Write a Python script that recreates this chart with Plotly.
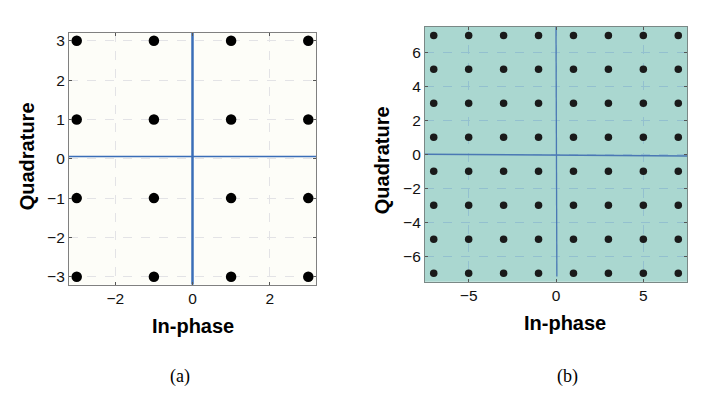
import plotly.graph_objects as go

# ---- data ----
levels_a = [-3, -1, 1, 3]
levels_b = [-7, -5, -3, -1, 1, 3, 5, 7]
xticks_a = [-2, 0, 2]
yticks_a = [-3, -2, -1, 0, 1, 2, 3]
xticks_b = [-5, 0, 5]
yticks_b = [-6, -4, -2, 0, 2, 4, 6]
range_a = [-3.2, 3.2]
range_b = [-7.5, 7.5]
# blue reference (axis) lines
a_vline_x = [0, 0]
a_vline_y = [-3.2, 3.2]
a_hline_x = [-3.2, 3.2]
a_hline_y = [0.06, 0.06]
b_vline_x = [0, 0.05]
b_vline_y = [7.5, -7.2]
b_hline_x = [-7.5, 7.5]
b_hline_y = [0, -0.1]

pts_a_x = [i for q in levels_a for i in levels_a]
pts_a_y = [q for q in levels_a for i in levels_a]
pts_b_x = [i for q in levels_b for i in levels_b]
pts_b_y = [q for q in levels_b for i in levels_b]

W, H = 723, 413
OFF = 8  # default page body margin


def px(x):
    return (x - OFF) / W


def py(y):
    return 1 - (y - OFF) / H


fig = go.Figure()

# subplot (a)
fig.add_trace(go.Scatter(x=a_vline_x, y=a_vline_y, mode="lines",
                         line=dict(color="#3a6eb8", width=2.5), xaxis="x", yaxis="y", showlegend=False))
fig.add_trace(go.Scatter(x=a_hline_x, y=a_hline_y, mode="lines",
                         line=dict(color="#3a6eb8", width=1.5), xaxis="x", yaxis="y", showlegend=False))
fig.add_trace(go.Scatter(x=pts_a_x, y=pts_a_y, mode="markers",
                         marker=dict(color="black", size=10.5), xaxis="x", yaxis="y",
                         showlegend=False, cliponaxis=False))

# subplot (b)
fig.add_trace(go.Scatter(x=b_vline_x, y=b_vline_y, mode="lines",
                         line=dict(color="#4a78b4", width=1.3), xaxis="x2", yaxis="y2", showlegend=False))
fig.add_trace(go.Scatter(x=b_hline_x, y=b_hline_y, mode="lines",
                         line=dict(color="#4a78b4", width=1.5), xaxis="x2", yaxis="y2", showlegend=False))
fig.add_trace(go.Scatter(x=pts_b_x, y=pts_b_y, mode="markers",
                         marker=dict(color="#1a1a1a", size=7.5), xaxis="x2", yaxis="y2",
                         showlegend=False, cliponaxis=False))

tickfont = dict(family="Liberation Sans, Arial", size=15.5, color="#111111")


def ax(rng, ticks, domain, gridcolor, linecolor, anchor):
    return dict(range=rng, tickvals=ticks, ticktext=[str(t).replace("-", "\u2212") for t in ticks],
                domain=domain, showgrid=True, gridcolor=gridcolor, griddash="dash", gridwidth=1,
                zeroline=False, showline=True, linecolor=linecolor, linewidth=1.2, mirror="ticks",
                ticks="inside", ticklen=3, tickcolor="#555555", tickfont=tickfont, anchor=anchor,
                fixedrange=True)


fig.update_layout(
    width=W, height=H, margin=dict(l=0, r=0, t=0, b=0),
    paper_bgcolor="white",
    xaxis=ax(range_a, xticks_a, [px(69), px(316)], "#e3e3e6", "#808080", "y"),
    yaxis=ax(range_a, yticks_a, [py(285), py(32)], "#e3e3e6", "#808080", "x"),
    xaxis2=ax(range_b, xticks_b, [px(425), px(687)], "#93c0cf", "#7a8886", "y2"),
    yaxis2=ax(range_b, yticks_b, [py(282), py(26)], "#93c0cf", "#7a8886", "x2"),
    plot_bgcolor="#fdfdf8",
    showlegend=False,
)

# teal background for subplot (b)
fig.add_shape(type="rect", xref="x2 domain", yref="y2 domain", x0=0, x1=1, y0=0, y1=1,
              fillcolor="#aad7d0", line=dict(width=0), layer="below")

title_font = dict(family="Liberation Sans, Arial", size=20, color="black")
cap_font = dict(family="Liberation Serif, Times New Roman", size=18, color="black")
annos = [
    dict(text="<b>Quadrature</b>", x=px(27), y=py(156), textangle=-90, font=title_font),
    dict(text="<b>In-phase</b>", x=px(193), y=py(327), font=title_font),
    dict(text="<b>Quadrature</b>", x=px(382), y=py(160), textangle=-90, font=title_font),
    dict(text="<b>In-phase</b>", x=px(565), y=py(324), font=title_font),
    dict(text="(a)", x=px(180), y=py(377), font=cap_font),
    dict(text="(b)", x=px(567), y=py(377), font=cap_font),
]
for a in annos:
    fig.add_annotation(xref="paper", yref="paper", showarrow=False, xanchor="center", yanchor="middle", **a)

fig.write_html("out.html")
